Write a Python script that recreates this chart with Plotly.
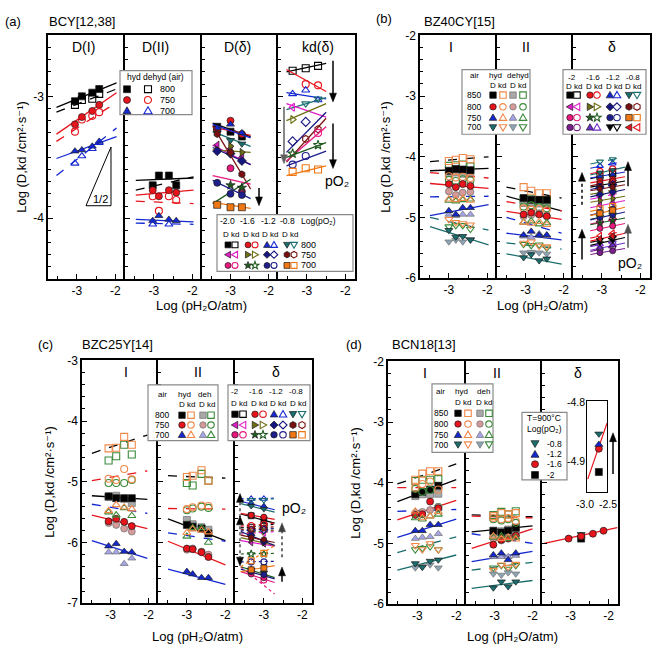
import math
import plotly.graph_objects as go

# ======================= DATA =======================
# ---- panel (a) BCY : D(I), D(II) ----
A_DI_X = [-3.05, -2.87, -2.60, -2.42]
A_DI_LX = [-3.53, -1.97]
A_DI_Y = {
    '800 hyd': [-3.04, -3.00, -2.97, -2.94],
    '800 dehyd': [-3.07, -3.03, -3.02, -2.98],
    '750 hyd': [-3.23, -3.17, -3.12, -3.07],
    '750 dehyd': [-3.29, -3.19, -3.16, -3.13],
    '700 hyd': [-3.45, -3.44, -3.41, -3.37],
    '700 dehyd': [-3.55, -3.49, -3.43, -3.38],
}
A_DI_FIT = {
    '800 hyd': [-3.09, -2.89], '800 dehyd': [-3.13, -2.94],
    '750 hyd': [-3.31, -2.97], '750 dehyd': [-3.37, -3.05],
    '700 hyd': [-3.51, -3.33], '700 dehyd': [-3.65, -3.26],
}
A_DII_X = [-3.03, -2.87, -2.61, -2.42]
A_DII_LX = [-3.47, -1.97]
A_DII_Y = {
    '800 hyd': [-3.73, -3.65, -3.65, -3.73],
    '800 dehyd': [None, None, None, None],
    '750 hyd': [-3.77, -3.82, -3.77, -3.79],
    '750 dehyd': [-3.82, -3.94, -3.82, -3.85],
    '700 hyd': [-4.02, -3.98, -4.01, -4.02],
    '700 dehyd': [-4.05, None, -4.05, None],
}
A_DII_FIT = {
    '800 hyd': [-3.69, -3.67], '800 dehyd': [-3.77, -3.66],
    '750 hyd': [-3.81, -3.77], '750 dehyd': [-3.86, -3.88],
    '700 hyd': [-4.01, -4.03], '700 dehyd': [-4.04, -4.05],
}
# ---- panel (a) : D(delta), kd(delta) ----
A_DD_X = [-3.35, -3.0, -2.7]
A_DD_LX = [-3.47, -2.47]
A_DD_Y = {
    '800|-2.0': [-3.25, -3.29, -3.33], '800|-1.6': [-3.28, -3.20, -3.31],
    '800|-1.2': [-3.26, -3.23, -3.30], '800|-0.8': [-3.30, -3.36, -3.39],
    '750|-2.0': [-3.40, -3.43, -3.50], '750|-1.6': [-3.44, -3.41, -3.46],
    '750|-1.2': [-3.45, -3.47, -3.53], '750|-0.8': [-3.31, -3.46, -3.64],
    '700|-2.0': [None, -3.59, -3.78], '700|-1.6': [None, -3.73, -3.75],
    '700|-1.2': [-3.71, -3.80, -3.81], '700|-0.8': [-3.89, -3.91, -3.91],
}
A_DD_FIT = {
    '800|-2.0': [-3.22, -3.33], '800|-1.6': [-3.25, -3.32], '800|-1.2': [-3.23, -3.34], '800|-0.8': [-3.29, -3.41],
    '750|-2.0': [-3.40, -3.56], '750|-1.6': [-3.44, -3.46], '750|-1.2': [-3.42, -3.56], '750|-0.8': [-3.24, -3.76],
    '700|-2.0': [-3.65, -3.72], '700|-1.6': [-3.88, -3.68], '700|-1.2': [-3.69, -3.84], '700|-0.8': [-3.87, -3.92],
}
A_KD_X = [-3.37, -3.03, -2.71]
A_KD_LX = [-3.53, -2.50]
A_KD_Y = {
    '800|-2.0': [-2.79, -2.77, -2.75], '800|-1.6': [None, -2.90, -2.91],
    '800|-1.2': [-2.98, -2.95, -3.03], '800|-0.8': [None, -3.06, -3.02],
    '750|-2.0': [-3.09, None, None], '750|-1.6': [-3.19, None, None],
    '750|-1.2': [-3.37, -3.21, None], '750|-0.8': [None, -3.35, -3.27],
    '700|-2.0': [None, None, -3.30], '700|-1.6': [-3.47, None, -3.40],
    '700|-1.2': [-3.56, -3.49, None], '700|-0.8': [-3.62, -3.59, -3.60],
}
A_KD_FIT = {
    '800|-2.0': [-2.80, -2.73], '800|-1.6': [-2.78, -2.96], '800|-1.2': [-2.97, -3.02], '800|-0.8': [-3.11, -3.01],
    '750|-2.0': [-3.06, -3.17], '750|-1.6': [-3.20, -3.06], '750|-1.2': [-3.46, -3.13], '750|-0.8': [-3.54, -3.18],
    '700|-2.0': [-3.53, -3.25], '700|-1.6': [-3.50, -3.38], '700|-1.2': [-3.57, -3.45], '700|-0.8': [-3.65, -3.57],
}

# ---- panel (b) BZ40CY : I, II ----
B1_X = [-3.0, -2.82, -2.64, -2.44]
B1_LX = [-3.49, -1.97]
B1_HYD_D = {'850': [-4.23, -4.20, -4.21, -4.22], '800': [-4.45, -4.50, -4.45, -4.48],
            '750': [-4.89, -4.95, -4.84, -4.84], '700': [-5.21, -5.32, -5.31, -5.37]}
B1_HYD_K = {'850': [-4.07, -4.05, -4.02, -4.04], '800': [-4.32, -4.34, -4.33, -4.35],
            '750': [-4.70, -4.71, -4.69, -4.72], '700': [-5.03, -5.08, -5.10, -5.12]}
B1_DEH_D = {'850': [-4.27, -4.26, -4.28, -4.26], '800': [-4.57, -4.63, -4.59, -4.58],
            '750': [-4.95, -4.97, -4.95, -4.95], '700': [-5.40, -5.37, -5.40, -5.36]}
B1_DEH_K = {'850': [-4.15, -4.14, -4.13, -4.16], '800': [-4.38, -4.40, -4.37, -4.39],
            '750': [-4.72, -4.73, -4.71, -4.70], '700': [-5.15, -5.13, -5.13, -5.19]}
B1_FIT_D = {'850': [-4.23, -4.19], '800': [-4.44, -4.52], '750': [-4.97, -4.79], '700': [-5.15, -5.45]}
B1_FIT_K = {'850': [-4.08, -4.00], '800': [-4.26, -4.35], '750': [-4.66, -4.65], '700': [-5.00, -5.21]}

B2_X = [-3.05, -2.85, -2.64, -2.44]
B2_LX = [-3.5, -2.05]
B2_HYD_D = {'850': [-4.68, -4.71, -4.71, -4.71], '800': [-4.95, -4.92, -4.95, -4.98],
            '750': [-5.29, -5.23, -5.29, -5.29], '700': [-5.66, -5.61, -5.71, -5.68]}
B2_HYD_K = {'850': [-4.50, -4.56, -4.60, -4.60], '800': [-4.85, -4.87, -4.86, -4.88],
            '750': [-5.08, -5.10, -5.07, -5.12], '700': [-5.42, -5.40, -5.47, -5.48]}
B2_DEH_D = {'850': [-4.76, -4.75, -4.77, -4.76], '800': [-4.98, -4.96, -4.93, -4.97],
            '750': [-5.31, -5.33, -5.27, -5.30], '700': [-5.58, -5.57, -5.58, -5.60]}
B2_DEH_K = {'850': [-4.71, -4.70, -4.72, -4.73], '800': [-4.82, -4.80, -4.83, -4.85],
            '750': [-5.08, -5.06, -5.11, -5.09], '700': [-5.44, -5.46, -5.45, -5.50]}
B2_FIT_D = {'850': [-4.65, -4.89], '800': [-4.90, -5.03], '750': [-5.26, -5.37], '700': [-5.60, -5.77]}
B2_FIT_K = {'850': [-4.50, -4.68], '800': [-4.74, -4.89], '750': [-5.00, -5.26], '700': [-5.42, -5.52]}

# ---- panel (b) : delta ----
B3_X = [-3.05, -2.72]
B3_LX = [-3.3, -2.4]
B3_D = {
    '850|-2': [-4.47, -4.44], '850|-1.6': [-4.40, -4.37], '850|-1.2': [-4.32, -4.29], '850|-0.8': [-4.26, -4.22],
    '800|-2': [-4.80, -4.76], '800|-1.6': [-4.72, -4.69], '800|-1.2': [-4.62, -4.58], '800|-0.8': [-4.53, -4.50],
    '750|-2': [-5.18, -5.14], '750|-1.6': [-5.09, -5.05], '750|-1.2': [-5.00, -4.96], '750|-0.8': [-4.93, -4.88],
    '700|-2': [-5.58, -5.55], '700|-1.6': [-5.50, -5.46], '700|-1.2': [-5.42, -5.38], '700|-0.8': [-5.35, -5.31],
}
B3_D_FIT = {
    '850|-2': [-4.50, -4.40], '850|-1.6': [-4.43, -4.33], '850|-1.2': [-4.35, -4.25], '850|-0.8': [-4.30, -4.17],
    '800|-2': [-4.84, -4.72], '800|-1.6': [-4.75, -4.65], '800|-1.2': [-4.66, -4.54], '800|-0.8': [-4.56, -4.46],
    '750|-2': [-5.22, -5.10], '750|-1.6': [-5.12, -5.01], '750|-1.2': [-5.04, -4.91], '750|-0.8': [-4.97, -4.83],
    '700|-2': [-5.61, -5.51], '700|-1.6': [-5.54, -5.42], '700|-1.2': [-5.46, -5.33], '700|-0.8': [-5.39, -5.26],
}
B3_K = {
    '850|-2': [-4.32, -4.28], '850|-1.6': [-4.24, -4.20], '850|-1.2': [-4.15, -4.11], '850|-0.8': [-4.08, -4.04],
    '800|-2': [-4.66, -4.62], '800|-1.6': [-4.58, -4.55], '800|-1.2': [-4.50, -4.46], '800|-0.8': [-4.44, -4.40],
    '750|-2': [-5.07, -5.03], '750|-1.6': [-4.99, -4.95], '750|-1.2': [-4.92, -4.87], '750|-0.8': [-4.86, -4.82],
    '700|-2': [-5.52, -5.48], '700|-1.6': [-5.44, -5.40], '700|-1.2': [-5.37, -5.33], '700|-0.8': [-5.30, -5.26],
}
B3_K_FIT = {
    '850|-2': [-4.36, -4.24], '850|-1.6': [-4.28, -4.16], '850|-1.2': [-4.19, -4.07], '850|-0.8': [-4.12, -4.00],
    '800|-2': [-4.70, -4.58], '800|-1.6': [-4.62, -4.51], '800|-1.2': [-4.54, -4.42], '800|-0.8': [-4.48, -4.36],
    '750|-2': [-5.11, -4.99], '750|-1.6': [-5.03, -4.91], '750|-1.2': [-4.96, -4.83], '750|-0.8': [-4.90, -4.78],
    '700|-2': [-5.56, -5.44], '700|-1.6': [-5.48, -5.36], '700|-1.2': [-5.41, -5.29], '700|-0.8': [-5.34, -5.22],
}

# ---- panel (c) BZC25Y : I, II ----
C1_X = [-3.05, -2.85, -2.64, -2.44]
C1_LX = [-3.49, -2.03]
C1_HYD_D = {'800': [-5.24, -5.27, -5.27, -5.27], '750': [-5.65, -5.61, -5.66, -5.73], '700': [-6.06, -6.02, -6.15, -6.16]}
C1_HYD_K = {'800': [-4.45, -4.44, -4.26, -4.39], '750': [-4.95, -4.97, -4.79, -4.96], '700': [-5.48, -5.38, -5.42, -5.45]}
C1_DEH_D = {'800': [-5.25, -5.23, -5.28, -5.35], '750': [-5.68, -5.71, -5.77, -5.82], '700': [-6.16, -6.16, -6.35, -6.26]}
C1_DEH_K = {'800': [-4.65, -4.58, -4.39, -4.55], '750': [-5.02, -5.02, -5.02, -4.97], '700': [-5.50, -5.55, -5.43, -5.56]}
C1_FIT_D = {'800': [-5.23, -5.29], '750': [-5.55, -5.77], '700': [-5.97, -6.26]}
C1_FIT_K = {'800': [-4.53, -4.23], '750': [-4.98, -4.82], '700': [-5.37, -5.52]}

C2_X = [-3.0, -2.85, -2.62, -2.44]
C2_LX = [-3.49, -2.0]
C2_HYD_D = {'800': [-5.71, -5.74, -5.77, -5.85], '750': [-6.10, -6.11, -6.16, -6.24], '700': [-6.48, -6.52, -6.58, -6.58]}
C2_HYD_K = {'800': [-4.92, -4.90, -4.81, -4.98], '750': [-5.45, -5.42, -5.39, -5.40], '700': [-5.84, -5.78, -5.80, -5.83]}
C2_DEH_D = {'800': [-5.63, -5.70, -5.75, -5.79], '750': [-6.12, -6.10, -6.15, -6.20], '700': [None, None, None, None]}
C2_DEH_K = {'800': [-5.02, -5.06, -4.87, -4.98], '750': [-5.47, -5.44, -5.41, -5.43], '700': [-5.90, -5.76, -5.76, -6.00]}
C2_FIT_D = {'800': [-5.61, -5.97], '750': [-5.98, -6.37], '700': [-6.44, -6.69]}
C2_FIT_K = {'800': [-4.90, -4.94], '750': [-5.44, -5.45], '700': [-5.84, -5.98]}

# ---- panel (c) : delta ----
C3_X = [-3.33, -3.0]
C3_LX = [-3.6, -2.72]
C3_D = {
    '800|-2': [-5.56, -5.62], '800|-1.6': [-5.55, -5.58], '800|-1.2': [-5.35, -5.40], '800|-0.8': [-5.40, -5.45],
    '750|-2': [-6.00, -6.02], '750|-1.6': [-5.95, -6.00], '750|-1.2': [-5.88, -5.98], '750|-0.8': [-5.92, -5.95],
    '700|-2': [-6.52, -6.58], '700|-1.6': [-6.45, -6.50], '700|-1.2': [-6.48, -6.53], '700|-0.8': [-6.45, -6.42],
}
C3_D_FIT = {
    '800|-2': [-5.53, -5.68], '800|-1.6': [-5.52, -5.62], '800|-1.2': [-5.32, -5.46], '800|-0.8': [-5.36, -5.50],
    '750|-2': [-5.97, -6.06], '750|-1.6': [-5.92, -6.05], '750|-1.2': [-5.82, -6.05], '750|-0.8': [-5.88, -6.00],
    '700|-2': [-6.48, -6.66], '700|-1.6': [-6.40, -6.58], '700|-1.2': [-6.44, -6.60], '700|-0.8': [-6.48, -6.38],
}
C3_K = {
    '800|-2': [-5.75, -5.73], '800|-1.6': [-5.72, -5.70], '800|-1.2': [-5.28, -5.28], '800|-0.8': [-5.30, -5.30],
    '750|-2': [-5.85, -5.84], '750|-1.6': [-5.83, -5.82], '750|-1.2': [-5.80, -5.79], '750|-0.8': [-5.78, -5.76],
    '700|-2': [-6.48, -6.62], '700|-1.6': [-6.19, -6.19], '700|-1.2': [-6.32, -6.32], '700|-0.8': [-6.30, -6.18],
}
C3_K_FIT = {
    '800|-2': [-5.76, -5.70], '800|-1.6': [-5.73, -5.68], '800|-1.2': [-5.28, -5.27], '800|-0.8': [-5.31, -5.28],
    '750|-2': [-5.86, -5.82], '750|-1.6': [-5.84, -5.80], '750|-1.2': [-5.81, -5.77], '750|-0.8': [-5.79, -5.74],
    '700|-2': [-6.40, -6.85], '700|-1.6': [-6.19, -6.18], '700|-1.2': [-6.32, -6.31], '700|-0.8': [-6.40, -6.05],
}

# ---- panel (d) BCN18 : I, II ----
D1_X = [-3.05, -2.87, -2.67, -2.46]
D1_LX = [-3.51, -2.0]
D1_HYD_D = {'850': [-4.19, -4.15, -4.11, -4.05], '800': [-4.53, -4.52, -4.31, -4.42],
            '750': [-4.79, -4.79, -4.69, -4.69], '700': [-5.33, -5.39, -5.29, -5.27]}
D1_HYD_K = {'850': [-3.95, -3.85, -3.81, -3.81], '800': [-4.08, -4.02, -3.98, -4.11],
            '750': [-4.47, -4.58, -4.55, -4.48], '700': [-5.03, -5.10, -5.00, -5.10]}
D1_DEH_D = {'850': [-4.22, -4.19, -4.19, -4.18], '800': [-4.50, -4.48, -4.45, -4.40],
            '750': [-4.92, -4.90, -4.89, -4.84], '700': [-5.40, -5.38, -5.35, -5.40]}
D1_DEH_K = {'850': [-3.97, -3.95, -3.95, -3.94], '800': [-4.10, -4.15, -4.12, -4.40],
            '750': [-4.58, -4.60, -4.55, -4.52], '700': [-5.10, -5.08, -5.05, -5.10]}
D1_FIT_D = {'850': [-4.31, -3.95], '800': [-4.61, -4.29], '750': [-4.90, -4.60], '700': [-5.44, -5.19]}
D1_FIT_K = {'850': [-4.02, -3.69], '800': [-4.08, -4.08], '750': [-4.47, -4.44], '700': [-5.15, -4.89]}

D2_X = [-3.03, -2.82, -2.64, -2.44]
D2_LX = [-3.6, -2.0]
D2_HYD_D = {'850': [-4.79, -4.82, -4.79, -4.74], '800': [-5.02, -4.94, -4.92, -4.87],
            '750': [-5.19, -5.16, -5.27, -5.16], '700': [-5.73, -5.63, -5.71, -5.63]}
D2_HYD_K = {'850': [-4.55, -4.50, -4.52, -4.50], '800': [-4.58, -4.60, -4.58, -4.63],
            '750': [-4.88, -4.92, -4.90, -4.93], '700': [-5.44, -5.35, -5.39, -5.34]}
D2_DEH_D = {'850': [-4.82, -4.80, -4.77, -4.80], '800': [-4.92, -4.95, -4.90, -4.88],
            '750': [-5.22, -5.22, -5.22, -5.20], '700': [-5.50, -5.52, -5.48, -5.50]}
D2_DEH_K = {'850': [-4.53, -4.48, -4.52, -4.47], '800': [-4.60, -4.62, -4.60, -4.66],
            '750': [-4.90, -4.88, -4.92, -4.90], '700': [-5.40, -5.36, -5.42, -5.36]}
D2_FIT_D = {'850': [-4.81, -4.71], '800': [-5.08, -4.76], '750': [-5.30, -5.13], '700': [-5.74, -5.61]}
D2_FIT_K = {'850': [-4.53, -4.56], '800': [-4.55, -4.58], '750': [-4.84, -5.00], '700': [-5.44, -5.31]}

# ---- panel (d) : delta at 900 C ----
D3_RED_X = [-3.05, -2.72, -2.41, -2.13]
D3_RED_Y = [-4.92, -4.88, -4.84, -4.79]
D3_MID_X = [-2.72]
D3_MID_Y = {'-0.8': [-4.85], '-1.2': [-4.87], '-2': [-4.92]}
D3_FIT_X = [-3.69, -1.77]
D3_FIT_Y = [-5.00, -4.74]
INSET_X = [-2.7]
INSET_Y = {'-0.8': [-4.854], '-1.2': [-4.872], '-1.6': [-4.879], '-2': [-4.918]}
INSET_FIT_X = [-3.0, -2.48]
INSET_FIT_Y = [-4.93, -4.836]

# tick labels
X_TICKS = [-3, -2]
Y_TICKS_A = [-4, -3]
Y_TICKS_BD = [-6, -5, -4, -3, -2]
Y_TICKS_C = [-7, -6, -5, -4, -3]

# ======================= STYLE =======================
BLACK = '#000000'; RED = '#e8141c'; BLUE = '#1428d2'; TEAL = '#1b6e6e'
MAGENTA = '#e01ec8'; OLIVE = '#6e6e14'; NAVY = '#16167e'; MAROON = '#781010'
PINK = '#e8187c'; DKGREEN = '#1e5a1e'; NAVY2 = '#1e1e8c'; ORANGE = '#f07814'
PURPLE = '#7a1e8c'; VIOLET = '#6c2cc8'
ORANGE_O = '#f0884a'; GREEN_O = '#3a8a3a'
GRAY_F = '#a8a8a8'; ROSY_F = '#d49a9a'; LAV_F = '#a4a4e6'; GBLUE_F = '#8ca4b4'
FONT = 'Liberation Sans, Arial, DejaVu Sans, sans-serif'

DSTYLE = [
    [('square', BLACK), ('circle', RED), ('triangle-up', BLUE), ('triangle-down', TEAL)],
    [('triangle-left', MAGENTA), ('triangle-right', OLIVE), ('diamond', NAVY), ('hexagon', MAROON)],
    [('circle', PINK), ('star', DKGREEN), ('circle', NAVY2), ('square', ORANGE)],
    [('circle', PURPLE), ('triangle-up', VIOLET), ('triangle-down', BLACK), ('triangle-left', RED)],
]
A_TCOL = {'800': BLACK, '750': RED, '700': BLUE}
A_TSYM = {'800': 'square', '750': 'circle', '700': 'triangle-up'}
B_TCOL = {'850': BLACK, '800': RED, '750': BLUE, '700': TEAL}
B_TSYM = {'850': 'square', '800': 'circle', '750': 'triangle-up', '700': 'triangle-down'}
B_DFILL = {'850': GRAY_F, '800': ROSY_F, '750': LAV_F, '700': GBLUE_F}
C_TCOL = {'800': BLACK, '750': RED, '700': BLUE}
C_TSYM = {'800': 'square', '750': 'circle', '700': 'triangle-up'}
C_DFILL = {'800': GRAY_F, '750': ROSY_F, '700': LAV_F}

# ======================= FIGURE =======================
W, H = 660, 665


def fx(px):
    return px / W


def fy(py):
    return 1 - py / H


fig = go.Figure()
axes = {}
annotations = []
shapes = []
ncol = [0]


def add_col(x0, x1, top, bot, yr, yticks, yminor, first, last):
    ncol[0] += 1
    s = '' if ncol[0] == 1 else str(ncol[0])
    common = dict(showline=True, linecolor='black', linewidth=1.5,
                  ticks='inside', tickwidth=1.2, tickcolor='black', ticklen=5,
                  showgrid=False, zeroline=False, tickmode='array',
                  fixedrange=True, tickfont=dict(size=12, family=FONT, color='black'))
    axes['xaxis' + s] = dict(common, domain=[fx(x0), fx(x1)], range=[-3.75, -1.75], anchor='y' + s,
                             mirror=True, tickvals=X_TICKS, ticktext=[str(v) for v in X_TICKS],
                             minor=dict(tickmode='linear', dtick=0.5, tick0=0, ticks='inside', ticklen=3,
                                        tickwidth=1, tickcolor='black', showgrid=False))
    axes['yaxis' + s] = dict(common, domain=[fy(bot), fy(top)], range=yr, anchor='x' + s,
                             tickvals=yticks, ticktext=[str(v) for v in yticks],
                             showticklabels=first, mirror=last,
                             minor=dict(tickmode='linear', dtick=yminor, tick0=0, ticks='inside', ticklen=3,
                                        tickwidth=1, tickcolor='black', showgrid=False))
    return 'x' + s, 'y' + s


def mk(symbol, color, filled, size=7, fill=None, edge=None):
    if filled:
        return dict(symbol=symbol, size=size, color=fill or color,
                    line=dict(color=edge or '#1a1a1a', width=0.7))
    return dict(symbol=symbol + '-open', size=size, color=color, line=dict(color=color, width=1.1))


def pts(xa, ya, x, y, m):
    fig.add_trace(go.Scatter(x=x, y=y, xaxis=xa, yaxis=ya, mode='markers', marker=m,
                             hoverinfo='skip'))


def fit(xa, ya, x, y, color, dash='solid', width=1.3):
    fig.add_trace(go.Scatter(x=x, y=y, xaxis=xa, yaxis=ya, mode='lines',
                             line=dict(color=color, dash=dash, width=width), hoverinfo='skip'))


def text(px, py, s, size=9, anchor='center', angle=0):
    annotations.append(dict(xref='paper', yref='paper', x=fx(px), y=fy(py), text=s, showarrow=False,
                            xanchor=anchor, yanchor='middle', textangle=angle,
                            font=dict(size=size, family=FONT, color='black')))


# ---- shapes in pixel space (legend boxes, legend glyphs, arrows, guides) ----
def P(px, py):
    return '%.5f,%.5f' % (fx(px), fy(py))


def poly(points, fill, edge, width, closed=True):
    path = 'M ' + ' L '.join(P(x, y) for x, y in points) + (' Z' if closed else '')
    shapes.append(dict(type='path', xref='paper', yref='paper', path=path, fillcolor=fill,
                       line=dict(color=edge, width=width), layer='above'))


def seg(x0, y0, x1, y1, color='black', width=1.5, dash='solid'):
    shapes.append(dict(type='line', xref='paper', yref='paper', x0=fx(x0), y0=fy(y0), x1=fx(x1),
                       y1=fy(y1), line=dict(color=color, width=width, dash=dash), layer='above'))


def box(x0, y0, x1, y1):
    shapes.append(dict(type='rect', xref='paper', yref='paper', x0=fx(x0), x1=fx(x1), y0=fy(y1),
                       y1=fy(y0), fillcolor='white', line=dict(color='#8a8a8a', width=1.2),
                       layer='above'))


def glyph(cx, cy, symbol, color, filled, size=6.5, fill=None, edge=None):
    r = size / 2
    fc = (fill or color) if filled else 'white'
    lc = (edge or '#1a1a1a') if filled else color
    lw = 0.7 if filled else 1.1
    if symbol == 'circle':
        shapes.append(dict(type='circle', xref='paper', yref='paper', x0=fx(cx - r), x1=fx(cx + r),
                           y0=fy(cy + r), y1=fy(cy - r), fillcolor=fc,
                           line=dict(color=lc, width=lw), layer='above'))
        return
    if symbol == 'square':
        p = [(cx - r, cy - r), (cx + r, cy - r), (cx + r, cy + r), (cx - r, cy + r)]
    elif symbol == 'triangle-up':
        p = [(cx, cy - r * 1.15), (cx + r * 1.15, cy + r * 0.85), (cx - r * 1.15, cy + r * 0.85)]
    elif symbol == 'triangle-down':
        p = [(cx, cy + r * 1.15), (cx + r * 1.15, cy - r * 0.85), (cx - r * 1.15, cy - r * 0.85)]
    elif symbol == 'triangle-left':
        p = [(cx - r * 1.15, cy), (cx + r * 0.85, cy - r * 1.15), (cx + r * 0.85, cy + r * 1.15)]
    elif symbol == 'triangle-right':
        p = [(cx + r * 1.15, cy), (cx - r * 0.85, cy - r * 1.15), (cx - r * 0.85, cy + r * 1.15)]
    elif symbol == 'diamond':
        p = [(cx, cy - r * 1.25), (cx + r * 1.25, cy), (cx, cy + r * 1.25), (cx - r * 1.25, cy)]
    elif symbol == 'hexagon':
        p = [(cx + r * 1.1 * math.cos(math.radians(90 + 60 * k)),
              cy + r * 1.1 * math.sin(math.radians(90 + 60 * k))) for k in range(6)]
    else:  # star
        p = []
        for k in range(10):
            rr = r * 1.35 if k % 2 == 0 else r * 0.55
            a = math.radians(-90 + 36 * k)
            p.append((cx + rr * math.cos(a), cy + rr * math.sin(a)))
    poly(p, fc, lc, lw)


def head(px, py, up, color='black'):
    d = 1 if up else -1
    poly([(px, py), (px - 3.5, py + d * 9), (px + 3.5, py + d * 9)], color, color, 0.5)


def arrow(px, ytail, yhead, color='black', dash='solid'):
    up = ytail > yhead
    seg(px, ytail, px, yhead + (7 if up else -7), color, 1.5, dash)
    head(px, yhead, up, color)


YT = 'Log (D,kd /cm²·s⁻¹)'
XT = 'Log (pH₂O/atm)'
PO2 = 'pO₂'
LOGPO2 = 'Log(pO₂)'

# ---------------- panel (a) ----------------
xa, ya = add_col(48, 125, 29, 278, [-4.5, -2.5], Y_TICKS_A, 0.1, True, False)
for key, ys in A_DI_Y.items():
    T, kind = key.split()
    hyd = kind == 'hyd'
    fit(xa, ya, A_DI_LX, A_DI_FIT[key], A_TCOL[T], 'solid' if hyd else 'dash')
    pts(xa, ya, A_DI_X, ys, mk(A_TSYM[T], A_TCOL[T], hyd))
xa, ya = add_col(125, 202, 29, 278, [-4.5, -2.5], Y_TICKS_A, 0.1, False, False)
for key, ys in A_DII_Y.items():
    T, kind = key.split()
    hyd = kind == 'hyd'
    fit(xa, ya, A_DII_LX, A_DII_FIT[key], A_TCOL[T], 'solid' if hyd else 'dash')
    pts(xa, ya, A_DII_X, ys, mk(A_TSYM[T], A_TCOL[T], hyd))
A_ROWS = ['800', '750', '700']
A_P = ['-2.0', '-1.6', '-1.2', '-0.8']
xa, ya = add_col(202, 278, 29, 278, [-4.5, -2.5], Y_TICKS_A, 0.1, False, False)
for key, ys in A_DD_Y.items():
    T, p = key.split('|')
    sym, col = DSTYLE[A_ROWS.index(T)][A_P.index(p)]
    fit(xa, ya, A_DD_LX, A_DD_FIT[key], col)
    pts(xa, ya, A_DD_X, ys, mk(sym, col, True, 7))
xa, ya = add_col(278, 355, 29, 278, [-4.5, -2.5], Y_TICKS_A, 0.1, False, True)
for key, ys in A_KD_Y.items():
    T, p = key.split('|')
    sym, col = DSTYLE[A_ROWS.index(T)][A_P.index(p)]
    fit(xa, ya, A_KD_LX, A_KD_FIT[key], col)
    pts(xa, ya, A_KD_X, ys, mk(sym, col, False, 7))


# ---------------- panel (b) ----------------
def tcol_panel(xa, ya, X, LX, HD, HK, DD, DK, FD, FK, tcol, tsym, dfill):
    for T in HD:
        fit(xa, ya, LX, FK[T], tcol[T], 'dash')
        fit(xa, ya, LX, FD[T], tcol[T], 'solid')
    for T in HD:
        pts(xa, ya, X, DK[T], mk(tsym[T], GREEN_O, False, 7))
        pts(xa, ya, X, HK[T], mk(tsym[T], ORANGE_O, False, 7))
        pts(xa, ya, X, DD[T], mk(tsym[T], tcol[T], True, 7, fill=dfill[T], edge='#707070'))
        pts(xa, ya, X, HD[T], mk(tsym[T], tcol[T], True, 7))


xa, ya = add_col(420, 497, 29, 277, [-6, -2], Y_TICKS_BD, 0.2, True, False)
tcol_panel(xa, ya, B1_X, B1_LX, B1_HYD_D, B1_HYD_K, B1_DEH_D, B1_DEH_K, B1_FIT_D, B1_FIT_K, B_TCOL, B_TSYM, B_DFILL)
xa, ya = add_col(497, 573, 29, 277, [-6, -2], Y_TICKS_BD, 0.2, False, False)
tcol_panel(xa, ya, B2_X, B2_LX, B2_HYD_D, B2_HYD_K, B2_DEH_D, B2_DEH_K, B2_FIT_D, B2_FIT_K, B_TCOL, B_TSYM, B_DFILL)
B_ROWS = ['850', '800', '750', '700']
B_P = ['-2', '-1.6', '-1.2', '-0.8']
xa, ya = add_col(573, 650, 29, 277, [-6, -2], Y_TICKS_BD, 0.2, False, True)
for key in B3_D:
    T, p = key.split('|')
    sym, col = DSTYLE[B_ROWS.index(T)][B_P.index(p)]
    fit(xa, ya, B3_LX, B3_K_FIT[key], col, 'dash', 1.1)
    fit(xa, ya, B3_LX, B3_D_FIT[key], col, 'solid', 1.1)
for key in B3_D:
    T, p = key.split('|')
    sym, col = DSTYLE[B_ROWS.index(T)][B_P.index(p)]
    pts(xa, ya, B3_X, B3_K[key], mk(sym, col, False, 6))
    pts(xa, ya, B3_X, B3_D[key], mk(sym, col, True, 6))

# ---------------- panel (c) ----------------
xa, ya = add_col(82, 158, 361, 609, [-7, -3], Y_TICKS_C, 0.2, True, False)
tcol_panel(xa, ya, C1_X, C1_LX, C1_HYD_D, C1_HYD_K, C1_DEH_D, C1_DEH_K, C1_FIT_D, C1_FIT_K, C_TCOL, C_TSYM, C_DFILL)
xa, ya = add_col(158, 235, 361, 609, [-7, -3], Y_TICKS_C, 0.2, False, False)
tcol_panel(xa, ya, C2_X, C2_LX, C2_HYD_D, C2_HYD_K, C2_DEH_D, C2_DEH_K, C2_FIT_D, C2_FIT_K, C_TCOL, C_TSYM, C_DFILL)
xa, ya = add_col(235, 312, 361, 609, [-7, -3], Y_TICKS_C, 0.2, False, True)
for key in C3_D:
    T, p = key.split('|')
    sym, col = DSTYLE[A_ROWS.index(T)][B_P.index(p)]
    fit(xa, ya, C3_LX, C3_K_FIT[key], col, 'dot', 1.2)
    fit(xa, ya, C3_LX, C3_D_FIT[key], col, 'solid', 1.2)
for key in C3_D:
    T, p = key.split('|')
    sym, col = DSTYLE[A_ROWS.index(T)][B_P.index(p)]
    pts(xa, ya, C3_X, C3_K[key], mk(sym, col, False, 6))
    pts(xa, ya, C3_X, C3_D[key], mk(sym, col, True, 6))

# ---------------- panel (d) ----------------
xa, ya = add_col(388, 466, 362, 610, [-6, -2], Y_TICKS_BD, 0.2, True, False)
tcol_panel(xa, ya, D1_X, D1_LX, D1_HYD_D, D1_HYD_K, D1_DEH_D, D1_DEH_K, D1_FIT_D, D1_FIT_K, B_TCOL, B_TSYM, B_DFILL)
xa, ya = add_col(466, 542, 362, 610, [-6, -2], Y_TICKS_BD, 0.2, False, False)
tcol_panel(xa, ya, D2_X, D2_LX, D2_HYD_D, D2_HYD_K, D2_DEH_D, D2_DEH_K, D2_FIT_D, D2_FIT_K, B_TCOL, B_TSYM, B_DFILL)
xa, ya = add_col(542, 618, 362, 610, [-6, -2], Y_TICKS_BD, 0.2, False, True)
fit(xa, ya, D3_FIT_X, D3_FIT_Y, RED)
D_PSTYLE = {'-0.8': ('triangle-down', TEAL), '-1.2': ('triangle-up', BLUE), '-1.6': ('circle', RED), '-2': ('square', BLACK)}
for p in ['-2', '-1.2', '-0.8']:
    sym, col = D_PSTYLE[p]
    pts(xa, ya, D3_MID_X, D3_MID_Y[p], mk(sym, col, True, 7))
pts(xa, ya, D3_RED_X, D3_RED_Y, mk('circle', RED, True, 7))

# inset (axes without tick labels; labels as text below)
ncol[0] += 1
s = str(ncol[0])
axes['xaxis' + s] = dict(domain=[fx(587), fx(607)], range=[-3.02, -2.48], anchor='y' + s, showline=True,
                         linecolor='black', linewidth=1.3, mirror=True, ticks='', showgrid=False,
                         zeroline=False, showticklabels=False, fixedrange=True)
axes['yaxis' + s] = dict(domain=[fy(495), fy(402)], range=[-4.951, -4.798], anchor='x' + s, showline=True,
                         linecolor='black', linewidth=1.3, mirror=True, ticks='', showgrid=False,
                         zeroline=False, showticklabels=False, fixedrange=True)
fit('x' + s, 'y' + s, INSET_FIT_X, INSET_FIT_Y, RED, 'solid', 1.2)
for p in ['-2', '-1.6', '-1.2', '-0.8']:
    sym, col = D_PSTYLE[p]
    pts('x' + s, 'y' + s, INSET_X, INSET_Y[p], mk(sym, col, True, 7))
text(576, 403, '-4.8', 10.5)
text(576, 464, '-4.9', 10.5)
text(585, 508, '-3.0', 10.5)
text(608, 508, '-2.5', 10.5)

# ---------------- guides, legends ----------------
poly([(86, 203), (111, 203), (111, 143)], 'rgba(0,0,0,0)', 'black', 1.0)
text(101, 196, '1/2', 11)

# legend (a) top
box(120, 65, 192, 110)
text(155, 72, 'hyd dehyd (air)', 8.5)
for T, yy in zip(A_ROWS, [84, 95, 106]):
    glyph(127, yy, A_TSYM[T], A_TCOL[T], True, 7)
    glyph(148, yy, A_TSYM[T], A_TCOL[T], False, 7)
    text(167, yy, T, 9)

# legend (a) bottom
box(217, 212, 353, 270)
for sx, lab in zip([227, 248, 268, 287], A_P):
    text(sx, 219, lab, 8.5)
text(318, 219, LOGPO2, 8.5)
for cx in [231, 251, 270, 290]:
    text(cx, 232, 'D kd', 8)
for r, (T, yy) in enumerate(zip(A_ROWS, [243, 253, 264])):
    for c, (dx, kx) in enumerate([(228, 235), (248, 255), (267, 274), (287, 294)]):
        sym, col = DSTYLE[r][c]
        glyph(dx, yy, sym, col, True, 6)
        glyph(kx, yy, sym, col, False, 6)
    text(308, yy, T, 9)

# legend (b) columns I/II
box(462, 64, 530, 130)
text(474, 70, 'air', 8)
text(495, 70, 'hyd', 8)
text(518, 70, 'dehyd', 8)
text(498, 80, 'D kd', 8)
text(518, 80, 'D kd', 8)
for T, yy in zip(B_ROWS, [90, 102, 113, 123]):
    text(474, yy, T, 8.5)
    glyph(493, yy, B_TSYM[T], B_TCOL[T], True)
    glyph(503, yy, B_TSYM[T], ORANGE_O, False)
    glyph(513, yy, B_TSYM[T], B_TCOL[T], True, fill=B_DFILL[T], edge='#707070')
    glyph(523, yy, B_TSYM[T], GREEN_O, False)

# legend (b) delta
box(563, 64, 646, 130)
for sx, lab in zip([572, 593, 613, 633], B_P):
    text(sx, 72, lab, 8)
for cx in [574, 594, 614, 633]:
    text(cx, 81, 'D kd', 8)
for r, yy in enumerate([90, 102, 113, 123]):
    for c, (dx, kx) in enumerate([(570, 577), (590, 597), (610, 617), (629, 637)]):
        sym, col = DSTYLE[r][c]
        glyph(dx, yy, sym, col, True)
        glyph(kx, yy, sym, col, False)

# legend (c) columns I/II
box(148, 386, 218, 443)
text(162, 396, 'air', 8)
text(184, 396, 'hyd', 8)
text(204, 396, 'deh', 8)
text(187, 406, 'D kd', 8)
text(207, 406, 'D kd', 8)
for T, yy in zip(A_ROWS, [417, 427, 437]):
    text(162, yy, T, 8.5)
    glyph(182, yy, C_TSYM[T], C_TCOL[T], True)
    glyph(191, yy, C_TSYM[T], ORANGE_O, False)
    glyph(203, yy, C_TSYM[T], C_TCOL[T], True, fill=C_DFILL[T], edge='#707070')
    glyph(211, yy, C_TSYM[T], GREEN_O, False)

# legend (c) delta
box(228, 386, 310, 443)
for sx, lab in zip([235, 256, 276, 296], B_P):
    text(sx, 393, lab, 8)
for cx in [239, 259, 278, 298]:
    text(cx, 405, 'D kd', 8)
for r, yy in enumerate([416, 427, 437]):
    for c, (dx, kx) in enumerate([(235, 243), (255, 263), (274, 283), (293, 302)]):
        sym, col = DSTYLE[r][c]
        glyph(dx, yy, sym, col, True)
        glyph(kx, yy, sym, col, False)

# legend (d) columns I/II
box(432, 385, 493, 455)
text(440, 393, 'air', 8)
text(461, 393, 'hyd', 8)
text(483, 393, 'deh', 8)
text(463, 404, 'D kd', 8)
text(484, 404, 'D kd', 8)
for T, yy in zip(B_ROWS, [415, 426, 437, 447]):
    text(441, yy, T, 8.5)
    glyph(458, yy, B_TSYM[T], B_TCOL[T], True)
    glyph(468, yy, B_TSYM[T], ORANGE_O, False)
    glyph(480, yy, B_TSYM[T], B_TCOL[T], True, fill=B_DFILL[T], edge='#707070')
    glyph(489, yy, B_TSYM[T], GREEN_O, False)

# legend (d) T=900
box(522, 414, 567, 483)
text(544, 420, 'T=900°C', 8.5)
text(544, 431, LOGPO2, 8.5)
for p, yy in zip(['-0.8', '-1.2', '-1.6', '-2'], [446, 457, 467, 478]):
    sym, col = D_PSTYLE[p]
    glyph(535, yy, sym, col, True, 7)
    text(545, yy, p, 8.5, 'left')

# ---------------- arrows ----------------
arrow(259, 185, 203)
arrow(284, 102, 160, '#606060')
arrow(333, 55, 97)
arrow(333, 119, 165)
arrow(582, 202, 169, 'black', 'dot')
arrow(582, 258, 227)
arrow(628, 183, 158)
arrow(628, 246, 222, '#505050')
seg(240, 506, 240, 562, '#404040', 1.4, 'dot')
head(240, 497, True)
head(240, 520, True)
head(240, 571, False)
arrow(282, 562, 527, '#404040', 'dot')
arrow(282, 587, 572)
arrow(613, 477, 435)

# ---------------- texts ----------------
text(13, 15, '(a)', 13)
text(47, 15, 'BCY[12,38]', 13, 'left')
text(384, 12, '(b)', 13)
text(422, 15, 'BZ40CY[15]', 13, 'left')
text(45, 345, '(c)', 13)
text(80, 345, 'BZC25Y[14]', 13, 'left')
text(354, 345, '(d)', 13)
text(390, 345, 'BCN18[13]', 13, 'left')

for px, s_ in [(83, 'D(I)'), (155, 'D(II)'), (237, 'D(δ)'), (318, 'kd(δ)')]:
    text(px, 41, s_, 14)
for px, s_ in [(451, 'I'), (526, 'II'), (612, 'δ')]:
    text(px, 41, s_, 14)
for px, s_ in [(126, 'I'), (198, 'II'), (276, 'δ')]:
    text(px, 373, s_, 14)
for px, s_ in [(425, 'I'), (497, 'II'), (578, 'δ')]:
    text(px, 374, s_, 14)

text(22, 153, YT, 13, angle=-90)
text(386, 153, YT, 13, angle=-90)
text(50, 485, YT, 13, angle=-90)
text(356, 486, YT, 13, angle=-90)
text(201, 305, XT, 13)
text(542, 305, XT, 13)
text(197, 643, XT, 13)
text(512, 643, XT, 13)

text(337, 178, PO2, 14)
text(630, 261, PO2, 14)
text(294, 512, PO2, 14)

fig.update_layout(width=W, height=H, margin=dict(l=0, r=0, t=0, b=0), paper_bgcolor='white',
                  plot_bgcolor='rgba(0,0,0,0)', showlegend=False, annotations=annotations,
                  shapes=shapes, font=dict(family=FONT, size=12, color='black'), **axes)
fig.write_html('out.html')
